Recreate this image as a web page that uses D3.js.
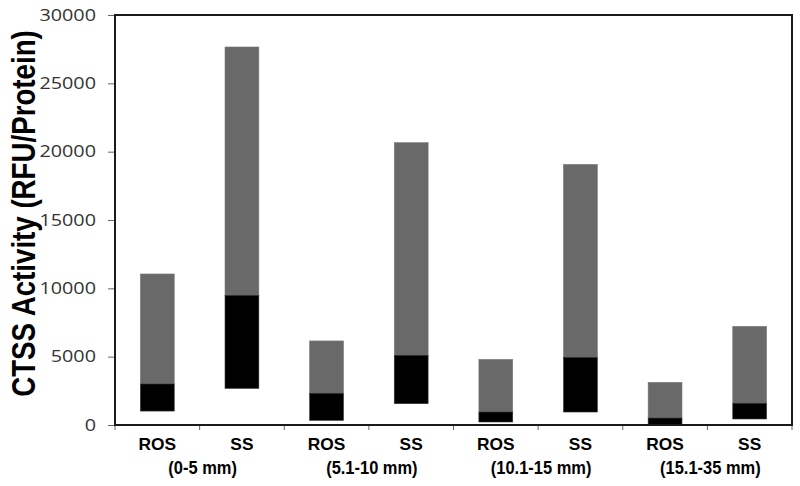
<!DOCTYPE html>
<html>
<head>
<meta charset="utf-8">
<script src="https://cdn.jsdelivr.net/npm/d3@7"></script>
<style>
  html, body { margin: 0; padding: 0; background: #fff; }
  svg { display: block; }
</style>
</head>
<body>
<svg id="chart" width="800" height="486"></svg>
<script>
// ---- data ----
const categories = ["ROS1", "SS1", "ROS2", "SS2", "ROS3", "SS3", "ROS4", "SS4"];
const barLabels = ["ROS", "SS", "ROS", "SS", "ROS", "SS", "ROS", "SS"];
const groupLabels = ["(0-5 mm)", "(5.1-10 mm)", "(10.1-15 mm)", "(15.1-35 mm)"];
const lowValues  = [1020, 2680, 340, 1560, 220, 950, 50, 440];
const midValues  = [3000, 9490, 2320, 5100, 950, 4950, 510, 1590];
const highValues = [11050, 27660, 6150, 20660, 4800, 19070, 3120, 7220];
const yTicks = [0, 5000, 10000, 15000, 20000, 25000, 30000];

const svg = d3.select("#chart");
const plotL = 115, plotR = 792, plotT = 15, plotB = 425;

const x = d3.scaleBand().domain(categories).range([plotL, plotR])
  .paddingInner(0.6).paddingOuter(0.3);
const y = d3.scaleLinear().domain([0, 30000]).range([plotB, plotT]);

const rows = categories.map((c, i) => ({c, lo: lowValues[i], mid: midValues[i], hi: highValues[i]}));

// gray upper segments
svg.append("g").selectAll("rect").data(rows).join("rect")
  .attr("x", d => x(d.c)).attr("width", x.bandwidth())
  .attr("y", d => y(d.hi)).attr("height", d => y(d.mid) - y(d.hi))
  .attr("fill", "#696969").attr("stroke", "#7a7a7a").attr("stroke-width", 0.6);
// black lower segments
svg.append("g").selectAll("rect").data(rows).join("rect")
  .attr("x", d => x(d.c)).attr("width", x.bandwidth())
  .attr("y", d => y(d.mid)).attr("height", d => y(d.lo) - y(d.mid))
  .attr("fill", "#000").attr("stroke", "#333").attr("stroke-width", 0.6);

// y axis
const yAxis = svg.append("g").attr("transform", `translate(${plotL},0)`)
  .call(d3.axisLeft(y).tickValues(yTicks).tickSize(7).tickPadding(12).tickFormat(d3.format("d")));
yAxis.select(".domain").remove();
yAxis.selectAll(".tick line").attr("stroke", "#666");
yAxis.selectAll(".tick text")
  .attr("fill", "#333").style("font-family", "'Open Sans', sans-serif").style("font-size", "16.5px")
  .each(function() {
    const w = this.getComputedTextLength();
    d3.select(this).attr("textLength", w * 1.2).attr("lengthAdjust", "spacingAndGlyphs");
  });

// x axis ticks at band boundaries
const step = x.step();
const boundaries = d3.range(categories.length + 1).map(i => x(categories[0]) - step * x.paddingOuter() + i * step);
svg.append("g").selectAll("line").data(boundaries).join("line")
  .attr("x1", d => d).attr("x2", d => d)
  .attr("y1", plotB).attr("y2", plotB + 5)
  .attr("stroke", "#666").attr("stroke-width", 1);

// frame
svg.append("rect").attr("x", plotL).attr("y", plotT)
  .attr("width", plotR - plotL).attr("height", plotB - plotT)
  .attr("fill", "none").attr("stroke", "#1a1a1a").attr("stroke-width", 2);

// x labels
const lbl = svg.append("g").style("font-family", "'Liberation Sans', Arial, sans-serif")
  .style("font-weight", "bold").attr("fill", "#000");
lbl.selectAll("text.cat").data(categories).join("text").attr("class", "cat")
  .attr("x", d => x(d) + x.bandwidth() / 2).attr("y", 450)
  .attr("text-anchor", "middle").style("font-size", "16.5px")
  .text((d, i) => barLabels[i])
  .each(function() {
    const w = this.getComputedTextLength();
    d3.select(this).attr("textLength", w * 1.05).attr("lengthAdjust", "spacingAndGlyphs");
  });
lbl.selectAll("text.grp").data(groupLabels).join("text").attr("class", "grp")
  .attr("x", (d, i) => (x(categories[2 * i]) + x(categories[2 * i + 1])) / 2 + x.bandwidth() / 2 + 3)
  .attr("y", 474)
  .attr("text-anchor", "middle").style("font-size", "17.5px")
  .text(d => d)
  .each(function() {
    const w = this.getComputedTextLength();
    d3.select(this).attr("textLength", w * 0.94).attr("lengthAdjust", "spacingAndGlyphs");
  });

// y title
svg.append("text")
  .attr("transform", `translate(35,213.5) rotate(-90) scale(1,1.18)`)
  .attr("text-anchor", "middle")
  .style("font-family", "'Liberation Sans', Arial, sans-serif")
  .style("font-weight", "bold").style("font-size", "27.7px")
  .attr("fill", "#000")
  .text("CTSS Activity (RFU/Protein)");
</script>
</body>
</html>
